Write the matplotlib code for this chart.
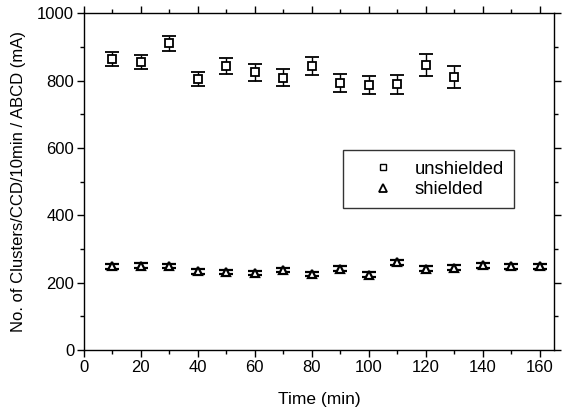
import matplotlib
matplotlib.use("Agg")
import matplotlib.pyplot as plt
from matplotlib.lines import Line2D
from matplotlib.ticker import MultipleLocator

plt.rcParams['font.family'] = ['Liberation Sans', 'DejaVu Sans']

time_unsh = [10, 20, 30, 40, 50, 60, 70, 80, 90, 100, 110, 120, 130]
unshielded = [864, 855, 911, 805, 843, 824, 809, 843, 792, 787, 789, 846, 810]
unshielded_err = [20, 21, 22, 20, 23, 25, 25, 27, 27, 28, 29, 33, 33]

time_sh = [10, 20, 30, 40, 50, 60, 70, 80, 90, 100, 110, 120, 130, 140, 150, 160]
shielded = [249, 251, 250, 234, 232, 229, 238, 226, 242, 224, 261, 242, 245, 252, 249, 249]
shielded_err = [7, 7, 7, 7, 7, 7, 7, 7, 7, 7, 8, 7, 7, 7, 7, 7]

fig = plt.figure(figsize=(5.71, 4.12), dpi=100)
ax = fig.add_axes([0.147, 0.150, 0.823, 0.818])

ax.errorbar(time_unsh, unshielded, yerr=unshielded_err, fmt='s', mfc='white', mec='black',
            mew=1.3, ms=6, ecolor='black', elinewidth=1.0, capsize=5, capthick=1.0)
ax.errorbar(time_sh, shielded, yerr=shielded_err, fmt='^', mfc='white', mec='black',
            mew=1.6, ms=5.5, ecolor='black', elinewidth=1.0, capsize=5, capthick=1.0)

ax.set_xlim(0, 165)
ax.set_ylim(0, 1000)
ax.xaxis.set_major_locator(MultipleLocator(20))
ax.xaxis.set_minor_locator(MultipleLocator(10))
ax.yaxis.set_major_locator(MultipleLocator(200))
ax.yaxis.set_minor_locator(MultipleLocator(100))
ax.tick_params(which='both', direction='out', top=True, right=True, labelsize=12, width=1.0, pad=2)
ax.tick_params(which='major', length=5)
ax.tick_params(which='minor', length=3)
for s in ax.spines.values():
    s.set_linewidth(1.0)

ax.set_xlabel('Time (min)', fontsize=12.5, labelpad=12)
ax.set_ylabel('No. of Clusters/CCD/10min / ABCD (mA)', fontsize=12, labelpad=8)

handles = [
    Line2D([], [], linestyle='none', marker='s', mfc='white', mec='black', mew=1.0, ms=5),
    Line2D([], [], linestyle='none', marker='^', mfc='white', mec='black', mew=1.3, ms=6),
]
leg = ax.legend(handles, ['unshielded', 'shielded'], loc='upper left',
                bbox_to_anchor=(0.551, 0.593), fontsize=13.3, frameon=True, fancybox=False,
                borderpad=0.55, handlelength=3.2, handletextpad=0.15, labelspacing=0.2,
                borderaxespad=0)
leg.get_frame().set_edgecolor('black')
leg.get_frame().set_linewidth(1.0)

fig.savefig('out.png', dpi=100)
